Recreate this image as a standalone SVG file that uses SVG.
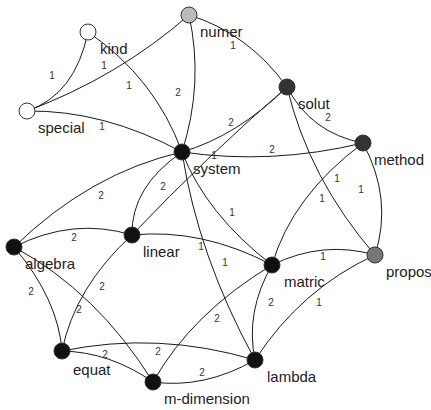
<svg xmlns="http://www.w3.org/2000/svg" width="431" height="410" viewBox="0 0 431 410">
<style>
.e{fill:none;stroke:#1a1a1a;stroke-width:1}
.n{stroke:#333;stroke-width:1}
.w{fill:#fff}
.g1{fill:#bbbbbb}
.g2{fill:#777}
.d{fill:#333}
.b{fill:#111}
.lb{font-family:"Liberation Sans",Arial,sans-serif;font-size:15px;fill:#222}
.el{font-family:"Liberation Sans",Arial,sans-serif;font-size:10px;fill:#333;text-anchor:middle}
</style>
<rect width="431" height="410" fill="#fff"/>
<g id="edges">
<path class="e" d="M88,32 Q75,95 27,111"/>
<path class="e" d="M88,32 Q155,78 182,152"/>
<path class="e" d="M27,111 Q118,77 189,15"/>
<path class="e" d="M27,111 Q104,110 182,152"/>
<path class="e" d="M189,15 Q204,83 182,152"/>
<path class="e" d="M189,15 Q248,33 287,87"/>
<path class="e" d="M287,87 Q237,136 182,152"/>
<path class="e" d="M132,235 Q206,157 287,87"/>
<path class="e" d="M287,87 Q311,133 363,143"/>
<path class="e" d="M287,87 Q309,179 375,255"/>
<path class="e" d="M182,152 Q272,165 363,143"/>
<path class="e" d="M363,143 Q393,199 375,255"/>
<path class="e" d="M363,143 Q292,196 272,265"/>
<path class="e" d="M182,152 Q206,214 272,265"/>
<path class="e" d="M182,152 Q198,256 255,360"/>
<path class="e" d="M132,235 Q202,228 272,265"/>
<path class="e" d="M132,235 Q131,187 182,152"/>
<path class="e" d="M14,247 Q90,173 182,152"/>
<path class="e" d="M14,247 Q73,217 132,235"/>
<path class="e" d="M14,247 Q58,299 62,351"/>
<path class="e" d="M14,247 Q97,292 153,382"/>
<path class="e" d="M132,235 Q75,287 62,351"/>
<path class="e" d="M62,351 Q158,331 255,360"/>
<path class="e" d="M62,351 Q110,352 153,382"/>
<path class="e" d="M153,382 Q204,389 255,360"/>
<path class="e" d="M153,382 Q192,313 272,265"/>
<path class="e" d="M272,265 Q245,312 255,360"/>
<path class="e" d="M255,360 Q301,289 375,255"/>
<path class="e" d="M272,265 Q323,240 375,255"/>
</g>
<g id="edge-labels">
<text class="el" x="52" y="79">1</text>
<text class="el" x="104" y="69">1</text>
<text class="el" x="129" y="89">1</text>
<text class="el" x="178" y="96">2</text>
<text class="el" x="102" y="130">1</text>
<text class="el" x="233" y="49">1</text>
<text class="el" x="231" y="126">2</text>
<text class="el" x="328" y="121">2</text>
<text class="el" x="272" y="153">2</text>
<text class="el" x="214" y="159">1</text>
<text class="el" x="163" y="190">2</text>
<text class="el" x="101" y="199">2</text>
<text class="el" x="74" y="241">2</text>
<text class="el" x="201" y="250">1</text>
<text class="el" x="322" y="202">1</text>
<text class="el" x="337" y="182">1</text>
<text class="el" x="361" y="193">1</text>
<text class="el" x="232" y="216">1</text>
<text class="el" x="225" y="266">1</text>
<text class="el" x="323" y="260">1</text>
<text class="el" x="319" y="306">1</text>
<text class="el" x="271" y="306">2</text>
<text class="el" x="217" y="322">2</text>
<text class="el" x="158" y="355">2</text>
<text class="el" x="202" y="376">2</text>
<text class="el" x="105" y="358">2</text>
<text class="el" x="31" y="295">2</text>
<text class="el" x="102" y="290">2</text>
<text class="el" x="79" y="313">2</text>
</g>
<g id="kind"><circle class="n w" cx="88" cy="32" r="8"/><text class="lb" x="100" y="54">kind</text></g>
<g id="special"><circle class="n w" cx="27" cy="111" r="8"/><text class="lb" x="38" y="133">special</text></g>
<g id="numer"><circle class="n g1" cx="189" cy="15" r="8"/><text class="lb" x="200" y="37">numer</text></g>
<g id="solut"><circle class="n d" cx="287" cy="87" r="8"/><text class="lb" x="298" y="109">solut</text></g>
<g id="method"><circle class="n d" cx="363" cy="143" r="8"/><text class="lb" x="374" y="165">method</text></g>
<g id="system"><circle class="n b" cx="182" cy="152" r="8"/><text class="lb" x="193" y="174">system</text></g>
<g id="linear"><circle class="n b" cx="132" cy="235" r="8"/><text class="lb" x="143" y="257">linear</text></g>
<g id="algebra"><circle class="n b" cx="14" cy="247" r="8"/><text class="lb" x="25" y="269">algebra</text></g>
<g id="matric"><circle class="n b" cx="272" cy="265" r="8"/><text class="lb" x="284" y="287">matric</text></g>
<g id="propos"><circle class="n g2" cx="375" cy="255" r="8"/><text class="lb" x="386" y="277">propos</text></g>
<g id="equat"><circle class="n b" cx="62" cy="351" r="8"/><text class="lb" x="73" y="375">equat</text></g>
<g id="m-dimension"><circle class="n b" cx="153" cy="382" r="8"/><text class="lb" x="164" y="404">m-dimension</text></g>
<g id="lambda"><circle class="n b" cx="255" cy="360" r="8"/><text class="lb" x="267" y="382">lambda</text></g>
</svg>
